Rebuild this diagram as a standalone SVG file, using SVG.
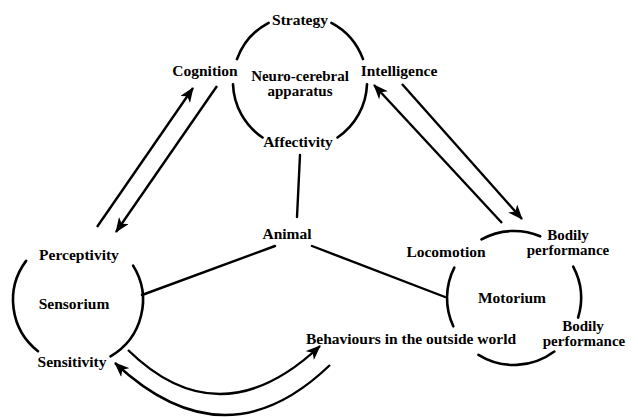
<svg xmlns="http://www.w3.org/2000/svg" width="638" height="417" viewBox="0 0 638 417">
<defs>
<marker id="ah" markerUnits="userSpaceOnUse" markerWidth="16" markerHeight="12" viewBox="0 0 16 12" refX="14" refY="6" orient="auto">
<path d="M0,0 L15,6 L0,12 L4,6 Z" fill="#000"/>
</marker>
</defs>
<style>
text{font-family:"Liberation Serif","Times New Roman",serif;font-weight:bold;font-size:15.5px;fill:#000;text-anchor:middle}
.sm{font-size:15px}
.arc{fill:none;stroke:#000;stroke-width:2.6;stroke-linecap:round}
.ln{fill:none;stroke:#000;stroke-width:2.4;stroke-linecap:round}
.ar{fill:none;stroke:#000;stroke-width:2.4;marker-end:url(#ah)}
</style>
<rect width="638" height="417" fill="#fff"/>
<g id="neuro-cerebral">
<path class="arc" d="M237,59.1 A67,67 0 0 1 268.6,22.8"/>
<path class="arc" d="M331.4,22.8 A67,67 0 0 1 363,59.1"/>
<path class="arc" d="M367,84.3 A67,67 0 0 1 337.5,137.5"/>
<path class="arc" d="M262.5,137.5 A67,67 0 0 1 233,84.3"/>
<text x="300" y="25">Strategy</text>
<text x="205" y="76">Cognition</text>
<text class="sm" x="300" y="81">Neuro-cerebral</text>
<text class="sm" x="300" y="96">apparatus</text>
<text x="399" y="76">Intelligence</text>
<text x="298" y="147">Affectivity</text>
</g>
<g id="sensorium">
<path class="arc" d="M38,351.2 A65,65 0 0 1 26.1,260.9"/>
<path class="arc" d="M133.1,265.6 A65,65 0 0 1 110.5,356.3"/>
<text x="79" y="260">Perceptivity</text>
<text x="74" y="309">Sensorium</text>
<text x="72" y="367">Sensitivity</text>
</g>
<g id="motorium">
<path class="arc" d="M481.5,239.4 A67,67 0 0 1 540.2,236.3"/>
<path class="arc" d="M453.3,326.3 A67,67 0 0 1 454.3,267.6"/>
<path class="arc" d="M573.2,266.6 A67,67 0 0 1 578.1,317.6"/>
<path class="arc" d="M554.3,351.5 A67,67 0 0 1 478.5,354.8"/>
<text x="446" y="257">Locomotion</text>
<text class="sm" x="568" y="240">Bodily</text>
<text class="sm" x="568" y="255">performance</text>
<text x="512" y="303">Motorium</text>
<text class="sm" x="583" y="331">Bodily</text>
<text class="sm" x="584" y="346">performance</text>
</g>
<g id="animal">
<text x="287" y="239">Animal</text>
</g>
<g id="behaviours">
<text x="411" y="344">Behaviours in the outside world</text>
</g>
<g id="connectors">
<path class="ln" d="M300,155 L297,217"/>
<path class="ln" d="M275,246 L142,295"/>
<path class="ln" d="M312,246 L445,297"/>
<path class="ar" d="M97,227 L193,88"/>
<path class="ar" d="M217,86 L116,232"/>
<path class="ar" d="M502,223 L374,85"/>
<path class="ar" d="M402,84 L522,219"/>
<path class="ar" d="M128,350 Q220,440 320,346"/>
<path class="ar" d="M330,365 Q225,466 115,363"/>
</g>
</svg>
